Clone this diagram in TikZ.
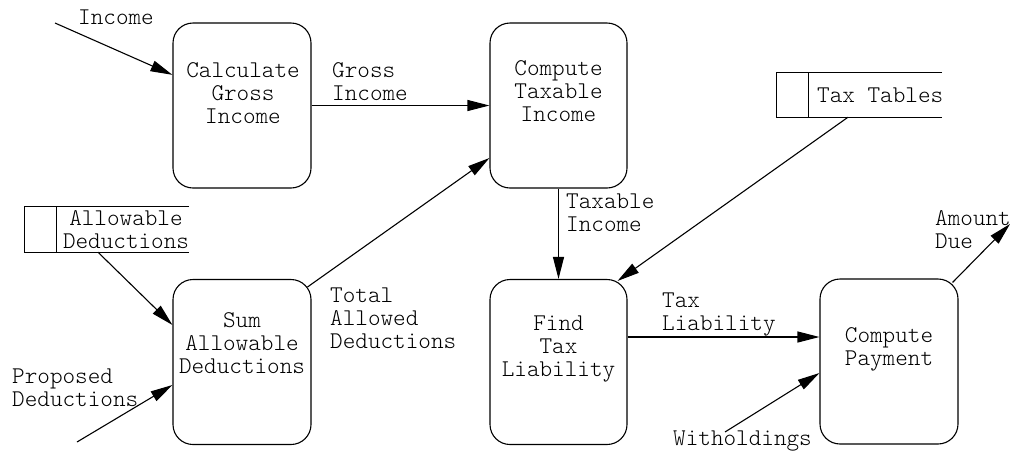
\documentclass[tikz,border=0pt]{standalone}
\usepackage{fontspec}
\setmainfont{lmmonolt10-regular.otf}
\usetikzlibrary{arrows.meta}
\begin{document}
\begin{tikzpicture}[x=1pt,y=-1pt,
  proc/.style={draw, line width=1.1pt, rounded corners=20pt, minimum width=138pt, minimum height=165pt, inner sep=0pt},
  txt/.style={font=\fontsize{24}{23}\selectfont, inner sep=0pt, align=center, anchor=north},
  lbl/.style={font=\fontsize{24}{23}\selectfont, inner sep=0pt, align=left, anchor=north west},
  flow/.style={line width=1.1pt, -{Triangle[length=22pt,width=11pt]}},
  storebox/.style={minimum width=164pt, minimum height=45pt, inner sep=0pt},
  storeline/.style={line width=1.1pt}]
\useasboundingbox (0,0) rectangle (1012,451);

% processes
\node[proc] (b1) at (242,105.5) {};
\node[proc, minimum width=137pt] (b2) at (558.5,105.5) {};
\node[proc] (b3) at (242,362) {};
\node[proc, minimum width=137pt] (b4) at (558.5,362) {};
\node[proc] (b5) at (889,361.5) {};

\node[txt] (b1t) at (243,60.9) {\strut Calculate\\Gross\\Income};
\node[txt] (b2t) at (558.5,58.9) {\strut Compute\\Taxable\\Income};
\node[txt] (b3t) at (242,310.9) {\strut Sum\\Allowable\\Deductions};
\node[txt] (b4t) at (558.5,313.9) {\strut Find\\Tax\\Liability};
\node[txt] (b5t) at (889,325.9) {\strut Compute\\Payment};

% data stores
\node[storebox] (as) at (107,229.5) {};
\draw[storeline] (as.north east) -- (as.north west) -- (as.south west) -- (as.south east);
\draw[storeline] ([xshift=32pt]as.north west) -- ([xshift=32pt]as.south west);
\node[txt] (ast) at (126,208.9) {\strut Allowable\\Deductions};

\node[storebox, minimum width=165pt, minimum height=44pt] (tt) at (859.5,95) {};
\draw[storeline] (tt.north east) -- (tt.north west) -- (tt.south west) -- (tt.south east);
\draw[storeline] ([xshift=32pt]tt.north west) -- ([xshift=32pt]tt.south west);
\node[lbl] (ttt) at (817,85.9) {\strut Tax Tables};

% free ends
\coordinate (inc) at (55,23);
\coordinate (pd) at (77,442);
\coordinate (wh) at (725,432);
\coordinate (amt) at (1010,224);

% flows
\draw[flow] (inc) -- (b1);
\draw[flow] (b1) -- (b2);
\draw[flow] ([xshift=-4pt,yshift=-8pt]b3.north east) -- ([yshift=-52.5pt]b2.west);
\draw[flow] ([xshift=-9pt]as.south) -- ([yshift=37pt]b3.west);
\draw[flow] (pd) -- ([yshift=-23pt]b3.west);
\draw[flow] (b2) -- (b4);
\draw[flow] ([xshift=-11.5pt]tt.south) -- ([xshift=-10pt,yshift=-2pt]b4.north east);
\draw[flow] ([yshift=25pt]b4.east) -- ([yshift=24.5pt]b5.west);
\draw[flow] (wh) -- ([yshift=-11.5pt]b5.west);
\draw[flow] ([xshift=-6pt,yshift=-4pt]b5.north east) -- (amt);

% labels
\node[lbl] (l1) at (78,7.9) {\strut Income};
\node[lbl] (l2) at (332,60.9) {\strut Gross\\Income};
\node[lbl] (l3) at (330,285.9) {\strut Total\\Allowed\\Deductions};
\node[lbl] (l4) at (566,191.9) {\strut Taxable\\Income};
\node[lbl] (l5) at (662,290.9) {\strut Tax\\Liability};
\node[lbl] (l6) at (935,208.9) {\strut Amount\\Due};
\node[lbl] (l7) at (12,366.9) {\strut Proposed\\Deductions};
\node[lbl] (l8) at (673,428.9) {\strut Witholdings};
\end{tikzpicture}
\end{document}
